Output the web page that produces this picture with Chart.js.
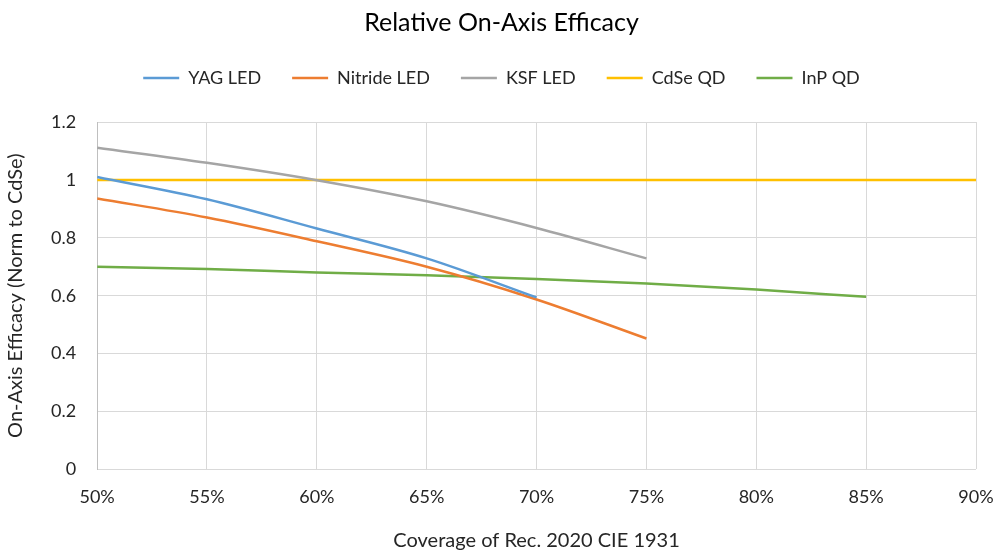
<!DOCTYPE html>
<html>
<head>
<meta charset="utf-8">
<script src="https://cdn.jsdelivr.net/npm/chart.js@4"></script>
<style>
  html, body { margin: 0; padding: 0; background: #fff; }
  #wrap { width: 1003px; height: 552px; }
</style>
</head>
<body>
<div id="wrap"><canvas id="chart"></canvas></div>
<script>
const coverage = [50, 55, 60, 65, 70, 75, 80, 85, 90];
const yagLed = [1.01, 0.933, 0.832, 0.729, 0.594];
const nitrideLed = [0.936, 0.870, 0.788, 0.700, 0.587, 0.452];
const ksfLed = [1.111, 1.059, 0.999, 0.926, 0.834, 0.729];
const cdseQd = [1, 1, 1, 1, 1, 1, 1, 1, 1];
const inpQd = [0.700, 0.692, 0.680, 0.671, 0.658, 0.642, 0.621, 0.596];

function pts(vals) {
  return vals.map((v, i) => ({ x: coverage[i], y: v }));
}

const textColor = '#262626';
const font = 'Lato, "Open Sans", sans-serif';

// extra room below the legend, like the Excel original
const legendGap = {
  id: 'legendGap',
  beforeInit(chart) {
    const fit = chart.legend.fit;
    chart.legend.fit = function () {
      fit.bind(chart.legend)();
      this.height += 25;
    };
  }
};

new Chart(document.getElementById('chart'), {
  type: 'line',
  plugins: [legendGap],
  data: {
    datasets: [
      { label: 'YAG LED', data: pts(yagLed), borderColor: '#5B9BD5' },
      { label: 'Nitride LED', data: pts(nitrideLed), borderColor: '#ED7D31' },
      { label: 'KSF LED', data: pts(ksfLed), borderColor: '#A5A5A5' },
      { label: 'CdSe QD', data: pts(cdseQd), borderColor: '#FFC000' },
      { label: 'InP QD', data: pts(inpQd), borderColor: '#70AD47' },
    ].map(d => Object.assign(d, {
      backgroundColor: d.borderColor,
      borderWidth: 2.5,
      pointRadius: 0,
      fill: false,
      cubicInterpolationMode: 'monotone',
    }))
  },
  options: {
    responsive: true,
    maintainAspectRatio: false,
    animation: false,
    layout: { padding: { top: 8, right: 0, left: 0, bottom: -5 } },
    plugins: {
      title: {
        display: true,
        text: 'Relative On-Axis Efficacy',
        color: '#000',
        font: { family: font, size: 25, weight: 'normal' },
        padding: { top: 0, bottom: 0 },
      },
      legend: {
        position: 'top',
        labels: {
          color: textColor,
          font: { family: font, size: 18 },
          usePointStyle: true,
          pointStyleWidth: 36,
          pointStyle: 'line',
          padding: 31,
        },
      },
      tooltip: { enabled: false },
    },
    scales: {
      x: {
        type: 'linear',
        min: 50,
        max: 90,
        border: { display: false },
        grid: { color: '#d9d9d9', drawTicks: false },
        afterFit(scale) { scale.paddingRight = 27; },
        ticks: {
          stepSize: 5,
          padding: 17,
          color: textColor,
          font: { family: font, size: 18 },
          callback: v => v + '%',
        },
        title: {
          display: true,
          text: 'Coverage of Rec. 2020 CIE 1931',
          color: textColor,
          font: { family: font, size: 20 },
          padding: { top: 4 },
        },
      },
      y: {
        min: 0,
        max: 1.2,
        border: { color: '#bfbfbf' },
        grid: { color: '#d9d9d9', drawTicks: false },
        ticks: {
          stepSize: 0.2,
          padding: 21,
          color: textColor,
          font: { family: font, size: 18 },
          callback: v => Math.round(v * 10) / 10,
        },
        title: {
          display: true,
          text: 'On-Axis Efficacy (Norm to CdSe)',
          color: textColor,
          font: { family: font, size: 20 },
          padding: { bottom: 2 },
        },
      },
    },
  },
});
</script>
</body>
</html>
